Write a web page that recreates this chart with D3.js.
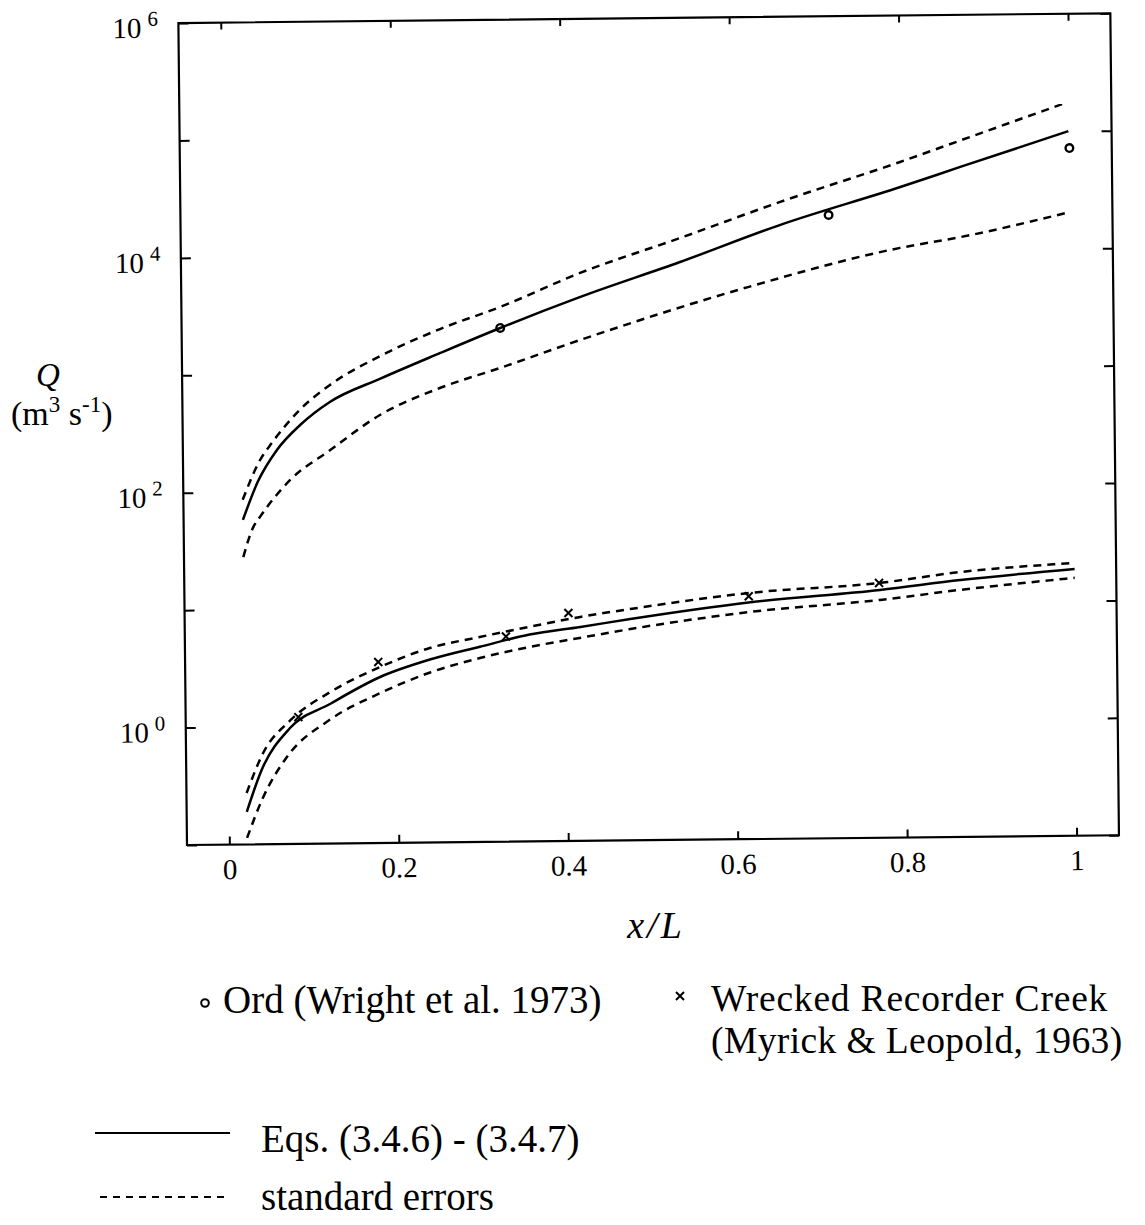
<!DOCTYPE html>
<html>
<head>
<meta charset="utf-8">
<script src="https://cdn.jsdelivr.net/npm/d3@7"></script>
<style>
	body { margin: 0; background: #fff; }
	svg text { font-family: "Liberation Serif", "DejaVu Serif", serif; fill: #000; }
	.curve { fill: none; stroke: #000; stroke-width: 2.5; }
	.dash { stroke-dasharray: 8, 6; }
	.tick line { stroke: #000; stroke-width: 2; }
</style>
</head>
<body>
<div class="chart"></div>
<script>
// Ord (Wright et al. 1973) - upper set of curves
var ordEqX = [0.020, 0.038, 0.061, 0.089, 0.124, 0.184, 0.255, 0.326, 0.421, 0.539, 0.658, 0.800, 0.871, 0.999];
var ordEqQ = [58, 122, 227, 370, 575, 900, 1470, 2370, 4290, 8320, 16900, 34600, 50700, 100000];
var ordHiX = [0.020, 0.041, 0.055, 0.089, 0.124, 0.184, 0.255, 0.326, 0.421, 0.539, 0.658, 0.800, 0.871, 0.992];
var ordHiQ = [86, 187, 260, 500, 800, 1400, 2350, 3570, 6860, 13300, 26500, 56600, 85000, 170000];
var ordLoX = [0.020, 0.032, 0.040, 0.076, 0.124, 0.183, 0.254, 0.325, 0.420, 0.615, 0.799, 0.870, 1.000];
var ordLoQ = [28, 50, 61, 125, 224, 441, 739, 1080, 1840, 4930, 10500, 12800, 20500];
var ordPtX = [0.326, 0.715, 1.000];
var ordPtQ = [2370, 20300, 71800];

// Wrecked Recorder Creek (Myrick & Leopold, 1963) - lower set
var creekEqX = [0.021, 0.039, 0.073, 0.121, 0.180, 0.239, 0.298, 0.357, 0.417, 0.476, 0.618, 0.771, 0.866, 1.001];
var creekEqQ = [0.189, 0.428, 0.97, 1.55, 2.59, 3.61, 4.59, 5.77, 6.63, 7.67, 10.4, 12.9, 15.4, 18.7];
var creekHiX = [0.021, 0.041, 0.073, 0.121, 0.180, 0.239, 0.298, 0.358, 0.417, 0.476, 0.618, 0.771, 0.866, 1.001];
var creekHiQ = [0.274, 0.598, 1.12, 1.95, 3.15, 4.53, 5.56, 6.75, 8.07, 9.33, 12.5, 14.8, 18.0, 21.0];
var creekLoX = [0.021, 0.039, 0.069, 0.120, 0.180, 0.239, 0.298, 0.357, 0.416, 0.476, 0.617, 0.771, 0.866, 1.001];
var creekLoQ = [0.1135, 0.238, 0.55, 1.13, 1.89, 2.80, 3.68, 4.53, 5.35, 6.30, 8.59, 10.6, 12.7, 15.7];
var creekPtX = [0.083, 0.178, 0.329, 0.403, 0.616, 0.770];
var creekPtQ = [1.20, 3.48, 5.58, 8.74, 11.7, 14.8];

var xTicks = [0, 0.2, 0.4, 0.6, 0.8, 1];
var yTicks = [0.1, 1, 10, 100, 1000, 10000, 100000, 1000000];
var yLabelExp = [0, 2, 4, 6];

var W = 1145, H = 1225;
var p = {left: 187, right: 1119, top: 23, bottom: 845};

var svg = d3.select('.chart').append('svg').attr('width', W).attr('height', H);
svg.append('rect').attr('width', W).attr('height', H).attr('fill', '#fff');

// the scanned figure is slightly tilted
var plot = svg.append('g').attr('transform', 'rotate(-0.6,' + p.left + ',' + p.bottom + ')');

var x = d3.scaleLinear().domain([-0.05, 1.05]).range([p.left, p.right]);
var y = d3.scaleLog().domain([0.1, 1e6]).range([p.bottom, p.top]);

function zip(xs, ys) {
	return xs.map(function(v, i) { return [v, ys[i]]; });
}

var line = d3.line().x(function(d) { return x(d[0]); }).y(function(d) { return y(d[1]); }).curve(d3.curveMonotoneX);

// axes: ticks point inward on all four sides
plot.append('g').attr('transform', 'translate(0,' + p.bottom + ')')
	.call(d3.axisBottom(x).tickValues(xTicks).tickSizeInner(-8).tickSizeOuter(0).tickPadding(14).tickFormat(function(d) { return String(d); }))
	.call(function(g) { g.select('.domain').remove(); g.selectAll('text').attr('font-size', 29).attr('font-family', null); });
plot.append('g').attr('transform', 'translate(0,' + p.top + ')')
	.call(d3.axisTop(x).tickValues(xTicks).tickSizeInner(-7).tickSizeOuter(0).tickFormat(''))
	.call(function(g) { g.select('.domain').remove(); });
var yLeft = plot.append('g').attr('transform', 'translate(' + p.left + ',0)')
	.call(d3.axisLeft(y).tickValues(yTicks).tickSizeInner(-10).tickSizeOuter(0).tickFormat(''))
	.call(function(g) { g.select('.domain').remove(); });
plot.append('g').attr('transform', 'translate(' + p.right + ',0)')
	.call(d3.axisRight(y).tickValues(yTicks).tickSizeInner(-10).tickSizeOuter(0).tickFormat(''))
	.call(function(g) { g.select('.domain').remove(); });

// 10^n labels for even powers
yLeft.selectAll('.tick').each(function(d) {
	var e = Math.round(Math.log10(d));
	if (yLabelExp.indexOf(e) < 0) return;
	var t = d3.select(this).append('text').attr('x', -66).attr('y', 14)
		.attr('font-size', 29).attr('text-anchor', 'start');
	t.append('tspan').text('10');
	t.append('tspan').attr('dx', 6).attr('dy', -12).attr('font-size', 21).text(e);
});

plot.append('rect').attr('x', p.left).attr('y', p.top)
	.attr('width', p.right - p.left).attr('height', p.bottom - p.top)
	.attr('fill', 'none').attr('stroke', '#000').attr('stroke-width', 2.2);

// curves
var curves = [
	[ordEqX, ordEqQ, false], [ordHiX, ordHiQ, true], [ordLoX, ordLoQ, true],
	[creekEqX, creekEqQ, false], [creekHiX, creekHiQ, true], [creekLoX, creekLoQ, true]
];
curves.forEach(function(c) {
	plot.append('path').attr('class', c[2] ? 'curve dash' : 'curve').attr('d', line(zip(c[0], c[1])));
});

// data points
plot.selectAll('circle.ord').data(zip(ordPtX, ordPtQ)).enter().append('circle')
	.attr('class', 'ord').attr('cx', function(d) { return x(d[0]); }).attr('cy', function(d) { return y(d[1]); })
	.attr('r', 3.8).attr('fill', 'none').attr('stroke', '#000').attr('stroke-width', 2.4);

function cross(g, cx, cy, s) {
	g.append('path').attr('d', 'M' + (cx - s) + ',' + (cy - s) + 'L' + (cx + s) + ',' + (cy + s) + 'M' + (cx - s) + ',' + (cy + s) + 'L' + (cx + s) + ',' + (cy - s))
		.attr('stroke', '#000').attr('stroke-width', 2).attr('fill', 'none');
}
zip(creekPtX, creekPtQ).forEach(function(d) {
	cross(plot, x(d[0]), y(d[1]), 4);
});

// axis titles
svg.append('text').attr('x', 656).attr('y', 938).attr('text-anchor', 'middle')
	.attr('font-size', 38).attr('font-style', 'italic').attr('letter-spacing', 3).text('x/L');
svg.append('text').attr('x', 36).attr('y', 386).attr('font-size', 33).attr('font-style', 'italic').text('Q');
var unit = svg.append('text').attr('x', 11).attr('y', 425).attr('font-size', 34);
unit.append('tspan').text('(m');
unit.append('tspan').attr('dy', -13).attr('font-size', 23).text('3');
unit.append('tspan').attr('dy', 13).text(' s');
unit.append('tspan').attr('dy', -13).attr('font-size', 23).text('-1');
unit.append('tspan').attr('dy', 13).text(')');

// legend
var leg = svg.append('g').attr('font-size', 39);
leg.append('circle').attr('cx', 205).attr('cy', 1003).attr('r', 3.8)
	.attr('fill', 'none').attr('stroke', '#000').attr('stroke-width', 2);
leg.append('text').attr('x', 223).attr('y', 1013).text('Ord (Wright et al. 1973)');
cross(leg, 680, 996, 4);
leg.append('text').attr('x', 711).attr('y', 1011).attr('font-size', 37.5).attr('letter-spacing', 0.8)
	.text('Wrecked Recorder Creek');
leg.append('text').attr('x', 711).attr('y', 1053).attr('font-size', 37.5).attr('letter-spacing', 0.4)
	.text('(Myrick & Leopold, 1963)');

leg.append('line').attr('x1', 95).attr('x2', 230).attr('y1', 1133).attr('y2', 1133)
	.attr('stroke', '#000').attr('stroke-width', 1.8);
leg.append('text').attr('x', 261).attr('y', 1152).text('Eqs. (3.4.6) - (3.4.7)');
leg.append('line').attr('x1', 100).attr('x2', 230).attr('y1', 1197).attr('y2', 1197)
	.attr('stroke', '#000').attr('stroke-width', 1.8).attr('stroke-dasharray', '7,6');
leg.append('text').attr('x', 261).attr('y', 1210).text('standard errors');
</script>
</body>
</html>
